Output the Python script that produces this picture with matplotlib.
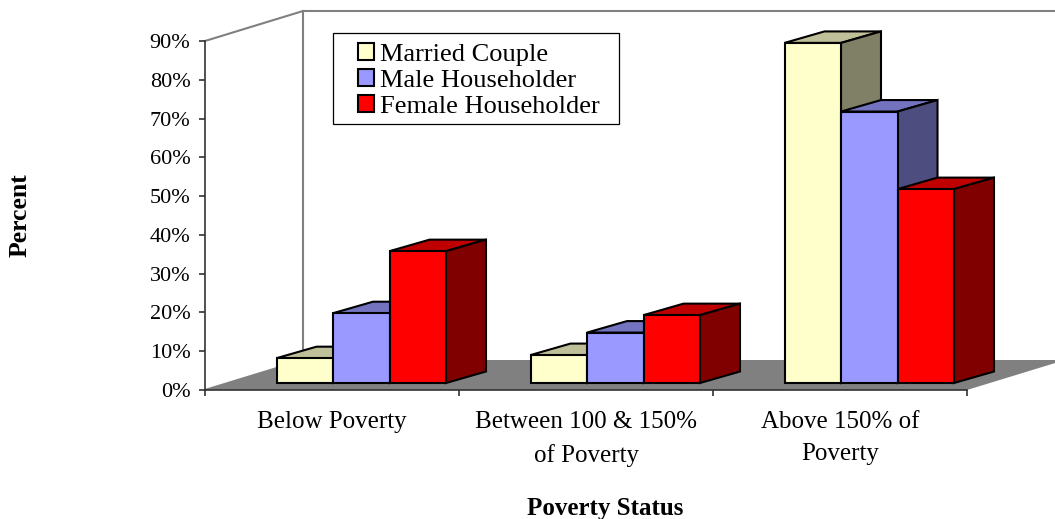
# -*- coding: utf-8 -*-
# poverty status by household type, drawn as excel-style 3d columns
import matplotlib; matplotlib.use('Agg')
import matplotlib.pyplot as plt
from matplotlib.patches import Patch, Rectangle
plt.rcParams['font.family']=['Liberation Serif','DejaVu Serif']

CATS=['Below Poverty','Between 100 & 150%\nof Poverty','Above 150% of\nPoverty']
SERIES=['Married Couple','Male Householder','Female Householder']
MARRIED=[6.4,7.2,87.7]
MALE=[18,13,70]
FEMALE=[34,17.5,50]
YTICKS=[0,10,20,30,40,50,60,70,80,90]
YLABELS=['0%','10%','20%','30%','40%','50%','60%','70%','80%','90%']
FRONT=['#FFFFCC','#9999FF','#FF0000']
TOP=['#BFBF99','#7373BF','#BF0000']
SIDE=['#808066','#4D4D80','#800000']

W,H=1055,519
L,R,T,B=205,967,41,390
PX=(R-L)/3; PY=(B-T)/90
def xu(p): return p/PX
def yu(p): return p/PY

fig=plt.figure(figsize=(W/100,H/100),dpi=100)
ax=fig.add_axes([L/W,1-B/H,(R-L)/W,(B-T)/H])
ax.set_xlim(0,3); ax.set_ylim(0,90)
for s in ['top','right']: ax.spines[s].set_visible(False)
for s in ['left','bottom']: ax.spines[s].set_color('#333333'); ax.spines[s].set_linewidth(1.2)

# floor + back wall
dx,dy=xu(98),yu(30)
ax.fill([0,3,3+dx,dx],[0,0,dy,dy],color='#808080',lw=0,clip_on=False,zorder=1)
ax.plot([0,dx,dx],[0,dy,90+dy],color='#808080',lw=1.5,clip_on=False,zorder=1.5)
ax.plot([0,dx,3+dx],[90,90+dy,90+dy],color='#808080',lw=1.5,clip_on=False,zorder=1.5)

# bars, left to right so later ones cover the earlier side faces
bw=xu(56.5); sx=xu(29.25); sy=yu(7); ddx,ddy=xu(40),yu(11.5)
z=3
for i in range(3):
    for j,vals in enumerate([MARRIED,MALE,FEMALE]):
        x0=i+.5+sx+(j-1.5)*bw; x1=x0+bw; y0=sy; y1=sy+vals[i]
        kw=dict(ec='black',lw=1.5,clip_on=False,joinstyle='miter')
        ax.fill([x0,x1,x1+ddx,x0+ddx],[y1,y1,y1+ddy,y1+ddy],fc=TOP[j],zorder=z,**kw)
        ax.fill([x1,x1+ddx,x1+ddx,x1],[y0,y0+ddy,y1+ddy,y1],fc=SIDE[j],zorder=z,**kw)
        ax.fill([x0,x1,x1,x0],[y0,y0,y1,y1],fc=FRONT[j],zorder=z,**kw)
        z+=1

ax.set_yticks(YTICKS); ax.set_yticklabels(YLABELS,fontsize=16)
ax.set_xticks([0,1,2,3]); ax.set_xticklabels([])
ax.tick_params(length=4.5,width=1.2,color='#333333',pad=6)
for i,c in enumerate(CATS):
    ax.text(i+.5,-5.5,c,ha='center',va='top',fontsize=18,linespacing=1.58,zorder=50)

fig.text(20/W,1-215/H,'Percent',rotation=90,ha='center',va='center',fontsize=18.5,fontweight='bold')
fig.text(605/W,1-508/H,'Poverty Status',ha='center',va='center',fontsize=18,fontweight='bold')

fig.add_artist(Rectangle((333/W,1-124/H),286/W,91/H,transform=fig.transFigure,fc='white',ec='black',lw=.9,zorder=59))
hs=[Patch(fc=c,ec='black',lw=1.5,label=n) for c,n in zip(FRONT,SERIES)]
leg=fig.legend(handles=hs,loc='upper left',bbox_to_anchor=(358/W,1-43/H),borderaxespad=0,fontsize=19,frameon=False,
    borderpad=0,labelspacing=.13,handlelength=.6,handleheight=.6,handletextpad=.25)
leg.set_zorder(60)
fig.savefig('out.png',dpi=100)
